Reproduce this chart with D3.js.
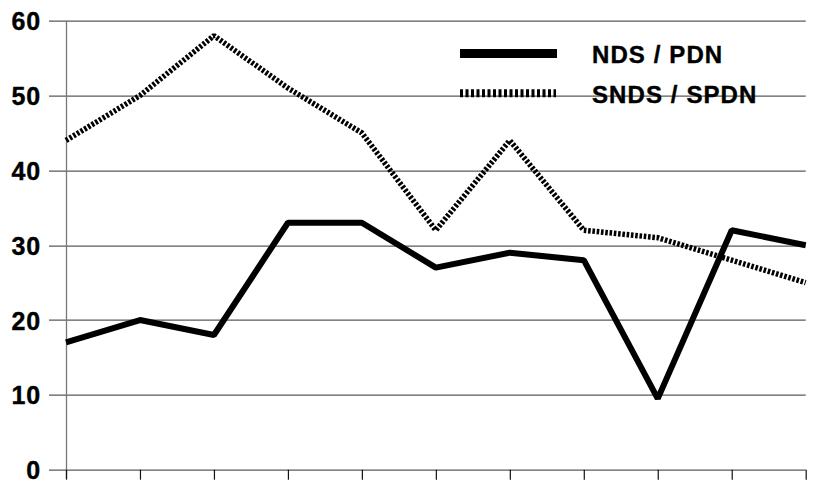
<!DOCTYPE html>
<html>
<head>
<meta charset="utf-8">
<script src="https://cdn.jsdelivr.net/npm/d3@7"></script>
<style>
  html, body { margin: 0; padding: 0; background: #fff; }
  svg { display: block; }
  text { font-family: "Liberation Sans", Arial, sans-serif; font-weight: bold; fill: #000; stroke: #000; stroke-width: 0.4px; }
</style>
</head>
<body>
<svg id="chart" width="836" height="486"></svg>
<script>
// ---- data ----
const categories = [1, 2, 3, 4, 5, 6, 7, 8, 9, 10, 11];
const ndsValues  = [17, 20, 18, 33, 33, 27, 29, 28, 9.5, 32, 30];
const sndsValues = [44, 50, 58, 51, 45, 32, 44, 32, 31, 28, 25];
const seriesNames = ["NDS / PDN", "SNDS / SPDN"];
const yTicks = [0, 10, 20, 30, 40, 50, 60];

// ---- layout ----
const W = 836, H = 486;
const margin = { left: 66, right: 30.3, top: 20.7, bottom: 16.3 };
const iw = W - margin.left - margin.right;
const ih = H - margin.top - margin.bottom;

const svg = d3.select("#chart");
const g = svg.append("g").attr("transform", `translate(${margin.left},${margin.top})`);

const x = d3.scalePoint().domain(categories).range([0, iw]);
const y = d3.scaleLinear().domain([0, 60]).range([ih, 0]);

// gridlines (extend left of the axis, like outward tick marks)
g.append("g").selectAll("line").data(yTicks).join("line")
  .attr("x1", -17).attr("x2", iw)
  .attr("y1", d => Math.round(y(d)) + 0.5).attr("y2", d => Math.round(y(d)) + 0.5)
  .attr("stroke", "#5a5a5a").attr("stroke-width", 1.2);

// y axis labels
const yAxis = d3.axisLeft(y).tickValues(yTicks).tickSize(17).tickPadding(8);
const ya = g.append("g").call(yAxis);
ya.select(".domain").remove();
ya.selectAll(".tick line").remove();
ya.selectAll(".tick text")
  .attr("font-family", "'Liberation Sans', Arial, sans-serif")
  .attr("font-weight", "bold")
  .attr("font-size", 25)
  .attr("letter-spacing", 0.8)
  .attr("fill", "#000")
  .attr("dy", "0.36em");

// vertical axis line
g.append("line")
  .attr("x1", 0.5).attr("x2", 0.5)
  .attr("y1", 0).attr("y2", ih + 9)
  .attr("stroke", "#777").attr("stroke-width", 1.3);

// x axis ticks
const xAxis = d3.axisBottom(x).tickSize(10).tickFormat("");
const xa = g.append("g").attr("transform", `translate(0,${ih})`).call(xAxis);
xa.select(".domain").remove();
xa.selectAll(".tick line").attr("stroke", "#111").attr("stroke-width", 1.2);

// lines
const line = d3.line().x((d, i) => x(categories[i])).y(d => y(d));

g.append("path").datum(sndsValues)
  .attr("d", line)
  .attr("fill", "none")
  .attr("stroke", "#000")
  .attr("stroke-width", 5.5)
  .attr("stroke-dasharray", "2.6,1.7")
  .attr("stroke-linejoin", "bevel");

g.append("path").datum(ndsValues)
  .attr("d", line)
  .attr("fill", "none")
  .attr("stroke", "#000")
  .attr("stroke-width", 6)
  .attr("stroke-linejoin", "bevel");

// legend
const lg = svg.append("g");
lg.append("line")
  .attr("x1", 460).attr("x2", 557).attr("y1", 53.5).attr("y2", 53.5)
  .attr("stroke", "#000").attr("stroke-width", 9);
lg.append("line")
  .attr("x1", 460).attr("x2", 556).attr("y1", 93.3).attr("y2", 93.3)
  .attr("stroke", "#000").attr("stroke-width", 8)
  .attr("stroke-dasharray", "3,2.5");
lg.append("text").attr("x", 592).attr("y", 63.3)
  .attr("font-size", 24).attr("letter-spacing", 1.1)
  .text(seriesNames[0]);
lg.append("text").attr("x", 592).attr("y", 103.3)
  .attr("font-size", 24).attr("letter-spacing", 1.1)
  .text(seriesNames[1]);
</script>
</body>
</html>
